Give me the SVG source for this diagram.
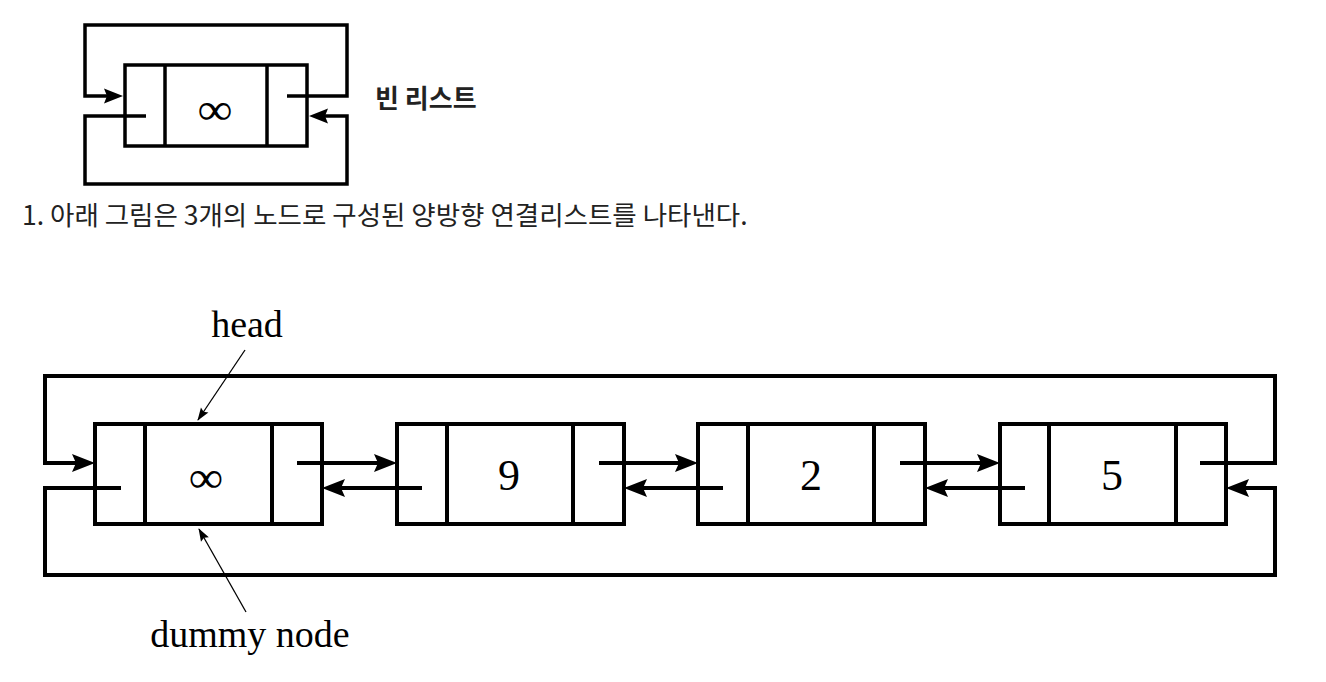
<svg xmlns="http://www.w3.org/2000/svg" width="1326" height="682" viewBox="0 0 1326 682">
<defs>
<style>
.box{fill:#fff;stroke:#000;stroke-width:4}
.bs{fill:#fff;stroke:#000;stroke-width:3.5}
.div{stroke:#000;stroke-width:4}
.divs{stroke:#000;stroke-width:3.5}
.link{fill:none;stroke:#000;stroke-width:4;marker-end:url(#ah)}
.links{fill:none;stroke:#000;stroke-width:3.5;marker-end:url(#ahs)}
.thin{fill:none;stroke:#000;stroke-width:1.3;marker-end:url(#at)}
.val{font-family:"Liberation Serif","DejaVu Serif",serif;font-size:44px;text-anchor:middle;fill:#000}
.lbl{font-family:"Liberation Serif","DejaVu Serif",serif;font-size:38px;text-anchor:middle;fill:#000}
.kr{font-family:"Noto Sans CJK KR","Noto Sans",sans-serif;fill:#222}
</style>
<marker id="ah" markerUnits="userSpaceOnUse" markerWidth="30" markerHeight="24" refX="15" refY="0" viewBox="0 -12 30 24" orient="auto" overflow="visible">
<path d="M0,-9 L23,0 L0,9 L4,0 Z" fill="#000"/>
</marker>
<marker id="ahs" markerUnits="userSpaceOnUse" markerWidth="26" markerHeight="20" refX="13" refY="0" viewBox="0 -10 26 20" orient="auto" overflow="visible">
<path d="M0,-7.5 L19,0 L0,7.5 L3,0 Z" fill="#000"/>
</marker>
<marker id="at" markerUnits="userSpaceOnUse" markerWidth="16" markerHeight="12" refX="12" refY="0" viewBox="0 -6 16 12" orient="auto" overflow="visible">
<path d="M0,-4.5 L13,0 L0,4.5 L2,0 Z" fill="#000"/>
</marker>
</defs>

<!-- empty list diagram -->
<g id="empty-node">
<rect class="bs" x="125" y="65" width="182" height="81"/>
<line class="divs" x1="165" y1="65" x2="165" y2="146"/>
<line class="divs" x1="267" y1="65" x2="267" y2="146"/>
<text class="val" transform="translate(215,123.5) scale(1.12,1)" font-size="46">∞</text>
</g>
<g id="empty-connectors">
<path class="links" d="M287,96 H347 V25 H85 V96 H117"/>
<path class="links" d="M146,116 H85 V184 H347 V116 H315"/>
</g>
<text class="kr" x="375" y="108" font-size="26" font-weight="bold">빈 리스트</text>

<text class="kr" x="22" y="225" font-size="26.5">1. 아래 그림은 3개의 노드로 구성된 양방향 연결리스트를 나타낸다.</text>

<!-- main list -->
<g id="node-dummy">
<rect class="box" x="95" y="424" width="227" height="100"/>
<line class="div" x1="145" y1="424" x2="145" y2="524"/>
<line class="div" x1="272" y1="424" x2="272" y2="524"/>
<text class="val" transform="translate(206,492) scale(1.1,1)" font-size="56">∞</text>
</g>
<g id="node-9">
<rect class="box" x="397" y="424" width="227" height="100"/>
<line class="div" x1="447" y1="424" x2="447" y2="524"/>
<line class="div" x1="573" y1="424" x2="573" y2="524"/>
<text class="val" x="509" y="490">9</text>
</g>
<g id="node-2">
<rect class="box" x="698" y="424" width="227" height="100"/>
<line class="div" x1="748" y1="424" x2="748" y2="524"/>
<line class="div" x1="874" y1="424" x2="874" y2="524"/>
<text class="val" x="811" y="490">2</text>
</g>
<g id="node-5">
<rect class="box" x="1000" y="424" width="226" height="100"/>
<line class="div" x1="1049" y1="424" x2="1049" y2="524"/>
<line class="div" x1="1176" y1="424" x2="1176" y2="524"/>
<text class="val" x="1112" y="490">5</text>
</g>
<g id="label-head">
<text class="lbl" x="247" y="337">head</text>
</g>
<g id="label-dummy">
<text class="lbl" x="250" y="647" font-size="39">dummy node</text>
</g>

<g id="connectors">
<path class="link" d="M1200,463 H1275 V376 H45 V463 H87"/>
<path class="link" d="M121,488 H45 V575 H1275 V488 H1234"/>
<path class="link" d="M297,463 H389"/>
<path class="link" d="M599,463 H690"/>
<path class="link" d="M900,463 H992"/>
<path class="link" d="M422,488 H330"/>
<path class="link" d="M723,488 H632"/>
<path class="link" d="M1025,488 H933"/>
<path class="thin" d="M245,350 L198,420"/>
<path class="thin" d="M246,612 L199,529"/>
</g>
</svg>
